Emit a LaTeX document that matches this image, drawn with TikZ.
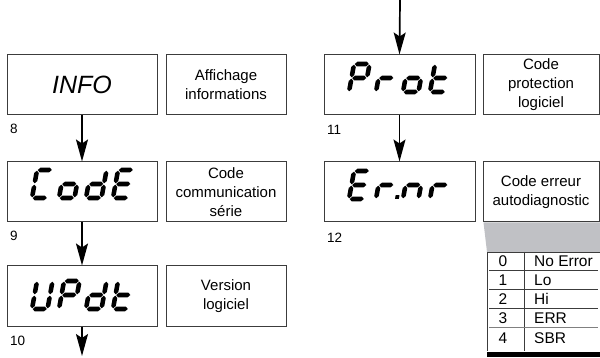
\documentclass[tikz,border=0pt]{standalone}
\usepackage{fontspec}
\setmainfont{Liberation Sans}
\usetikzlibrary{arrows.meta}
\definecolor{panelgrey}{RGB}{192,193,197}
\definecolor{linegrey}{RGB}{60,60,60}
% seven-segment geometry (local units, y downward, origin bottom-left)
\def\dW{15.5}\def\dH{28}\def\dM{14}\def\dT{4.6}\def\dG{0.7}
\newcommand\sgH[1]{\fill (\dG,#1) -- ({\dG+\dT/2},{#1-\dT/2}) -- ({\dW-\dG-\dT/2},{#1-\dT/2}) -- ({\dW-\dG},#1) -- ({\dW-\dG-\dT/2},{#1+\dT/2}) -- ({\dG+\dT/2},{#1+\dT/2}) -- cycle;}
\newcommand\sgV[3]{\fill (#1,{#2+\dG}) -- ({#1+\dT/2},{#2+\dG+\dT/2}) -- ({#1+\dT/2},{#3-\dG-\dT/2}) -- (#1,{#3-\dG}) -- ({#1-\dT/2},{#3-\dG-\dT/2}) -- ({#1-\dT/2},{#2+\dG+\dT/2}) -- cycle;}
\newcommand\SgA{\sgH{-\dH}}
\newcommand\SgG{\sgH{-\dM}}
\newcommand\SgD{\sgH{0}}
\newcommand\SgF{\sgV{0}{-\dH}{-\dM}}
\newcommand\SgE{\sgV{0}{-\dM}{0}}
\newcommand\SgB{\sgV{\dW}{-\dH}{-\dM}}
\newcommand\SgC{\sgV{\dW}{-\dM}{0}}
\newcommand\SgP{\fill ({\dW+3.5},-3.8) rectangle ({\dW+7.3},0);}
\newcommand\sevdigit[3]{\begin{scope}[shift={(#1,#2)},xslant=0.18]#3\end{scope}}
\tikzset{
  dispbox/.style={draw=linegrey, line width=1pt, minimum height=60pt, inner sep=0pt},
  sidebox/.style={draw=linegrey, line width=1pt, minimum height=60pt, inner sep=0pt,
     align=center, font=\fontsize{15}{19}\selectfont},
  numlbl/.style={anchor=west, inner sep=0pt, font=\fontsize{13.5}{16}\selectfont},
  tabtxt/.style={inner sep=0pt, font=\fontsize{15.5}{18}\selectfont},
  arr/.style={line width=1.7pt, -{Stealth[length=22pt,width=12pt,inset=4pt]}}
}
\begin{document}
\begin{tikzpicture}[x=1pt,y=-1pt]
\useasboundingbox (0,0) rectangle (600,358);
% left column
\node[dispbox, minimum width=150pt, font=\fontsize{25}{30}\selectfont\itshape] (info) at (82,85) {INFO};
\node[sidebox, minimum width=120pt] (infod) at (226,85) {Affichage\\informations};
\node[numlbl] (n8) at (10,129) {8};
\node[dispbox, minimum width=150pt] (code) at (82,192) {};
\node[sidebox, minimum width=120pt] (coded) at (226,192) {Code\\communication\\série};
\node[numlbl] (n9) at (10,236) {9};
\node[dispbox, minimum width=150pt] (updt) at (82,296) {};
\node[sidebox, minimum width=120pt] (updtd) at (226,296) {Version\\logiciel};
\node[numlbl] (n10) at (10,341) {10};
% right column
\node[dispbox, minimum width=151pt] (prot) at (399.5,85) {};
\node[sidebox, minimum width=116pt] (protd) at (541,85) {Code\\protection\\logiciel};
\node[numlbl] (n11) at (327,130) {11};
\node[dispbox, minimum width=151pt] (ernr) at (399.5,192) {};
\node[sidebox, minimum width=116pt] (ernrd) at (541,192) {Code erreur\\autodiagnostic};
\node[numlbl] (n12) at (327,238) {12};
% seven-segment texts
% CodE
\sevdigit{32}{198}{\SgA\SgF\SgE\SgD}
\sevdigit{59}{198}{\SgG\SgE\SgD\SgC}
\sevdigit{86}{198}{\SgB\SgC\SgD\SgE\SgG}
\sevdigit{113}{198}{\SgA\SgF\SgG\SgE\SgD}
% UPdt
\sevdigit{32}{309}{\SgF\SgE\SgD\SgC\SgB}
\sevdigit{59}{309}{\SgA\SgB\SgF\SgG\SgE}
\sevdigit{86}{309}{\SgB\SgC\SgD\SgE\SgG}
\sevdigit{113}{309}{\SgF\SgG\SgE\SgD}
% Prot
\sevdigit{349}{92}{\SgA\SgB\SgF\SgG\SgE}
\sevdigit{376}{92}{\SgE\SgG}
\sevdigit{403}{92}{\SgG\SgE\SgD\SgC}
\sevdigit{430}{92}{\SgF\SgG\SgE\SgD}
% Er.nr
\sevdigit{349}{199}{\SgA\SgF\SgG\SgE\SgD}
\sevdigit{376}{199}{\SgE\SgG\SgP}
\sevdigit{403}{199}{\SgE\SgG\SgC}
\sevdigit{430}{199}{\SgE\SgG}
% arrows
\coordinate (topin) at (400,0);
\coordinate (botout) at (82,356);
\draw[arr] (info.south) -- (code.north);
\draw[arr] (code.south) -- (updt.north);
\draw[arr] (updt.south) -- (botout);
\draw[arr] (topin) -- (prot.north);
\draw[arr] (prot.south) -- (ernr.north);
% error table
\fill[panelgrey] (483.5,222.5) -- (600,222.5) -- (600,252) -- (487,252) -- cycle;
\draw[linegrey, line width=0.9pt] (600,252) -- (487,252) -- (487,351);
\draw[linegrey, line width=0.6pt] (524,252) -- (524,351);
\foreach \yy/\cc in {270/linegrey,289/linegrey,308/linegrey,327/gray}
  \draw[\cc, line width=0.8pt] (489,\yy) -- (598,\yy);
\fill[black] (487,351.5) rectangle (600,356.5);
\foreach \nn/\txt/\yy in {0/No Error/261,1/Lo/280,2/Hi/299,3/ERR/318,4/SBR/338}{
  \node[tabtxt] (k\nn) at (503,\yy) {\nn};
  \node[tabtxt, anchor=west] (v\nn) at (534,\yy) {\txt};
}
\end{tikzpicture}
\end{document}
